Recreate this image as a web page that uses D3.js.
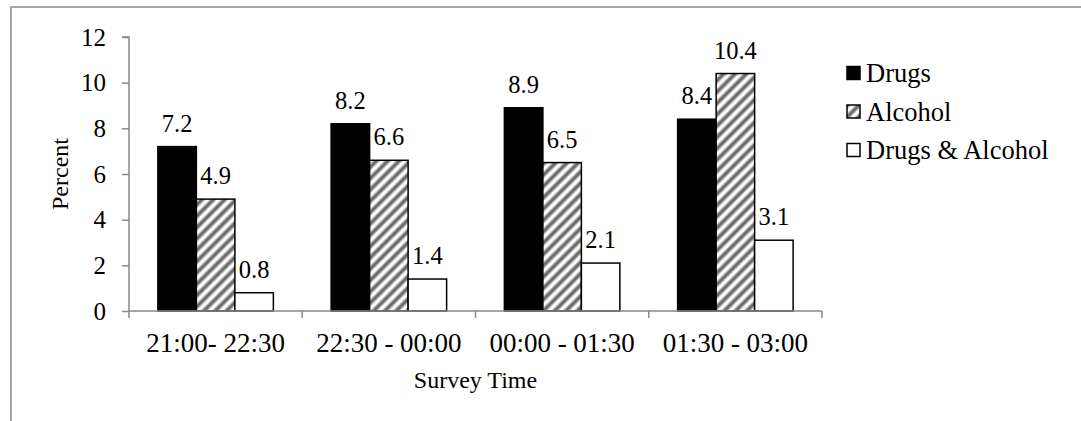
<!DOCTYPE html>
<html>
<head>
<meta charset="utf-8">
<script src="https://cdn.jsdelivr.net/npm/d3@7"></script>
<style>
  html, body { margin: 0; padding: 0; background: #fff; }
  svg { display: block; }
  svg text { font-family: "Liberation Serif", "Times New Roman", serif; fill: #000; }
</style>
</head>
<body>
<svg id="chart" width="1081" height="421"></svg>
<script>
// Survey time slots and the share of drivers testing positive
const categories = ["21:00- 22:30", "22:30 - 00:00", "00:00 - 01:30", "01:30 - 03:00"];
const seriesNames = ["Drugs", "Alcohol", "Drugs & Alcohol"];
const drugs = [7.2, 8.2, 8.9, 8.4];
const alcohol = [4.9, 6.6, 6.5, 10.4];
const drugsAlcohol = [0.8, 1.4, 2.1, 3.1];
const yTicks = [0, 2, 4, 6, 8, 10, 12];

const seriesValues = [drugs, alcohol, drugsAlcohol];

const serif = "Liberation Serif";
const svg = d3.select("#chart");
const axisGray = "#898989";

// Pattern for the alcohol series: upward diagonal stripes
const defs = svg.append("defs");
const pat = defs.append("pattern")
  .attr("id", "diag")
  .attr("patternUnits", "userSpaceOnUse")
  .attr("width", 8).attr("height", 8)
  .attr("patternTransform", "rotate(45)");
pat.append("rect").attr("width", 8).attr("height", 8).attr("fill", "#fff");
pat.append("rect").attr("x", 1.5).attr("width", 5).attr("height", 8).attr("fill", "#bdbdbd");
pat.append("rect").attr("x", 2.5).attr("width", 3).attr("height", 8).attr("fill", "#6a6a6a");

const fills = ["#000", "url(#diag)", "#fff"];

// Chart area frame
svg.append("rect")
  .attr("x", 11).attr("y", 7)
  .attr("width", 1200).attr("height", 600)
  .attr("fill", "none")
  .attr("stroke", axisGray).attr("stroke-width", 1.5);

const plot = { left: 129, right: 822, top: 37, bottom: 311 };

const x = d3.scaleBand().domain(categories).range([plot.left, plot.right]).paddingInner(0).paddingOuter(0);
const y = d3.scaleLinear().domain([0, 12]).range([plot.bottom, plot.top]);
// 3 bars per group with a gap of 1.5 bar widths between groups
const barW = x.bandwidth() / 4.5;
const xs = d3.scaleBand().domain(seriesNames).range([0, barW * 3]);
const groupOffset = (x.bandwidth() - barW * 3) / 2;

// Y axis
const yAxis = svg.append("g").attr("transform", `translate(${plot.left},0)`)
  .call(d3.axisLeft(y).tickValues(yTicks).tickSize(7).tickPadding(16).tickFormat(d3.format("d")));
yAxis.attr("font-family", serif).attr("font-size", 25);
yAxis.select(".domain").attr("stroke", axisGray).attr("stroke-width", 1.5).attr("d", `M-7,${plot.top}H0V${plot.bottom}`);
yAxis.selectAll(".tick line").attr("stroke", axisGray).attr("stroke-width", 1.5);
yAxis.selectAll(".tick text").attr("font-family", serif).attr("font-size", 25).attr("fill", "#000");

// Bars and value labels
categories.forEach((c, ci) => {
  seriesNames.forEach((s, si) => {
    const v = seriesValues[si][ci];
    const bx = x(c) + groupOffset + xs(s);
    svg.append("rect")
      .attr("x", bx).attr("y", y(v))
      .attr("width", barW).attr("height", y(0) - y(v))
      .attr("fill", fills[si])
      .attr("stroke", "#000").attr("stroke-width", 1.5);
    svg.append("text")
      .attr("x", bx + barW / 2).attr("y", y(v) - 15)
      .attr("text-anchor", "middle")
      .attr("font-family", serif)
      .attr("font-size", 24.5)
      .text(v.toFixed(1));
  });
});

// X axis
const xAxis = svg.append("g").attr("transform", `translate(0,${plot.bottom})`)
  .call(d3.axisBottom(x).tickSize(0).tickPadding(0));
xAxis.attr("font-family", serif);
xAxis.select(".domain").attr("stroke", axisGray).attr("stroke-width", 1.5).attr("d", `M${plot.left},0H${plot.right}`);
xAxis.selectAll(".tick text").remove();
// category boundary ticks
const bounds = categories.map(c => x(c)).concat([plot.right]);
xAxis.selectAll(".bound").data(bounds).enter().append("line")
  .attr("x1", d => d).attr("x2", d => d).attr("y1", 0).attr("y2", 7)
  .attr("stroke", axisGray).attr("stroke-width", 1.5);
xAxis.selectAll(".cat").data(categories).enter().append("text")
  .attr("x", d => x(d) + x.bandwidth() / 2).attr("y", 41)
  .attr("text-anchor", "middle").attr("font-family", serif).attr("font-size", 27).attr("fill", "#000")
  .text(d => d);

// Axis titles
svg.append("text")
  .attr("x", (plot.left + plot.right) / 2).attr("y", 388)
  .attr("text-anchor", "middle").attr("font-family", serif).attr("font-size", 24)
  .text("Survey Time");
svg.append("text")
  .attr("transform", `translate(68,${(plot.top + plot.bottom) / 2}) rotate(-90)`)
  .attr("text-anchor", "middle").attr("font-family", serif).attr("font-size", 24)
  .text("Percent");

// Legend
const legend = svg.append("g").attr("transform", "translate(847,73)");
seriesNames.forEach((s, i) => {
  const g = legend.append("g").attr("transform", `translate(0,${i * 38.5})`);
  g.append("rect").attr("x", 0).attr("y", -6.5).attr("width", 13).attr("height", 13)
    .attr("fill", fills[i]).attr("stroke", "#000").attr("stroke-width", 1.5);
  g.append("text").attr("x", 19).attr("y", 0).attr("dy", "0.35em")
    .attr("font-family", serif).attr("font-size", 26.5).text(s);
});
</script>
</body>
</html>
